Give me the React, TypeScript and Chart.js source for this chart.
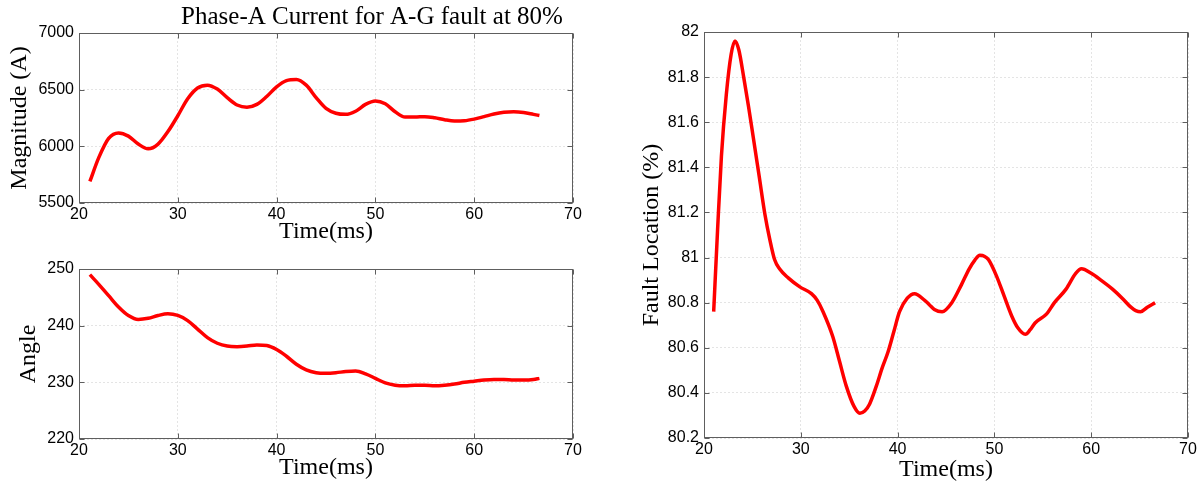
import React, { useEffect, useRef } from "react";
import { Chart, registerables } from "chart.js";

Chart.register(...registerables);

// ---------- data ----------
const chartTitle = "Phase-A Current for A-G fault at 80%";
const timeLabel = "Time(ms)";

const magTime = [21.1, 22, 23, 24, 25, 26, 27, 28, 29, 30, 31, 32, 33, 34, 35, 36, 37, 38, 39, 40, 41, 42, 43, 44, 45, 46, 47, 48, 49, 50, 51, 52, 53, 54, 55, 56, 57, 58, 59, 60, 61, 62, 63, 64, 65, 66, 66.6];
const magValues = [5690, 5900, 6070, 6118, 6090, 6020, 5978, 6020, 6130, 6270, 6420, 6515, 6540, 6505, 6430, 6365, 6345, 6370, 6440, 6525, 6580, 6590, 6540, 6430, 6335, 6292, 6282, 6310, 6370, 6400, 6375, 6305, 6258, 6258, 6262, 6252, 6235, 6224, 6226, 6240, 6262, 6285, 6300, 6305, 6298, 6282, 6272];

const angTime = [21.1, 22, 23, 24, 25, 26, 27, 28, 29, 30, 31, 32, 33, 34, 35, 36, 37, 38, 39, 40, 41, 42, 43, 44, 45, 46, 47, 48, 49, 50, 51, 52, 53, 54, 55, 56, 57, 58, 59, 60, 61, 62, 63, 64, 65, 66, 66.6];
const angValues = [249, 247.3, 245.3, 243.3, 241.8, 241.1, 241.3, 241.8, 242.1, 241.8, 240.9, 239.4, 237.9, 236.9, 236.4, 236.3, 236.4, 236.6, 236.5, 235.8, 234.6, 233.2, 232.2, 231.7, 231.6, 231.7, 231.9, 232.0, 231.5, 230.7, 229.9, 229.5, 229.4, 229.5, 229.5, 229.4, 229.5, 229.7, 230.0, 230.2, 230.4, 230.5, 230.5, 230.4, 230.4, 230.5, 230.7];

const locTime = [21.0, 21.4, 21.8, 22.3, 22.8, 23.2, 23.6, 24.1, 24.6, 25.1, 25.7, 26.3, 26.8, 27.3, 27.8, 28.7, 29.9, 31.1, 31.7, 32.3, 33.3, 34.0, 34.7, 35.5, 36.1, 36.6, 37.1, 37.8, 38.4, 39.0, 39.6, 40.2, 41.0, 41.75, 42.8, 43.3, 43.8, 44.6, 45.6, 46.6, 47.4, 48.0, 48.5, 49.0, 49.4, 50.2, 51.0, 51.8, 52.4, 53.2, 53.7, 54.2, 55.4, 56.2, 57.4, 58.4, 59.0, 60.0, 61.0, 62.2, 63.2, 64.1, 64.6, 65.1, 65.8, 66.6];
const locValues = [80.76, 81.12, 81.45, 81.72, 81.9, 81.96, 81.92, 81.8, 81.67, 81.53, 81.36, 81.19, 81.08, 80.99, 80.95, 80.91, 80.87, 80.84, 80.81, 80.76, 80.65, 80.54, 80.43, 80.34, 80.31, 80.32, 80.35, 80.43, 80.51, 80.58, 80.67, 80.76, 80.82, 80.84, 80.81, 80.79, 80.77, 80.76, 80.8, 80.88, 80.95, 80.99, 81.01, 81.005, 80.99, 80.92, 80.83, 80.74, 80.69, 80.66, 80.68, 80.71, 80.75, 80.8, 80.86, 80.93, 80.95, 80.93, 80.9, 80.86, 80.82, 80.78, 80.765, 80.76, 80.78, 80.8];

const xMin = 20;
const xMax = 70;
const xStep = 10;

// ---------- helpers ----------
const SERIF = "'Liberation Serif', 'Times New Roman', serif";
const SANS = "'Liberation Sans', Arial, sans-serif";

function makeAxesPlugin(title?: string, titleDx = 0) {
  return {
    id: "matlabAxes",
    afterDatasetsDraw(chart: any) {
      const { ctx, chartArea: a, scales } = chart;
      ctx.save();
      const L = Math.round(a.left) + 0.5;
      const R = Math.round(a.right) - 0.5;
      const T = Math.round(a.top) + 0.5;
      const B = Math.round(a.bottom) - 0.5;
      ctx.strokeStyle = "#5e5e5e";
      ctx.lineWidth = 1;
      ctx.strokeRect(L, T, R - L, B - T);
      const len = 5;
      ctx.beginPath();
      scales.x.ticks.forEach((t: any) => {
        const px = Math.round(scales.x.getPixelForValue(t.value)) + 0.5;
        ctx.moveTo(px, B);
        ctx.lineTo(px, B - len);
        ctx.moveTo(px, T);
        ctx.lineTo(px, T + len);
      });
      scales.y.ticks.forEach((t: any) => {
        const py = Math.round(scales.y.getPixelForValue(t.value)) + 0.5;
        ctx.moveTo(L, py);
        ctx.lineTo(L + len, py);
        ctx.moveTo(R, py);
        ctx.lineTo(R - len, py);
      });
      ctx.stroke();
      if (title) {
        ctx.fillStyle = "#000";
        ctx.font = `25px ${SERIF}`;
        ctx.textAlign = "center";
        ctx.textBaseline = "middle";
        ctx.fillText(title, (a.left + a.right) / 2 + titleDx, 17);
      }
      ctx.restore();
    },
  };
}

type PanelProps = {
  left: number;
  top: number;
  width: number;
  height: number;
  padLeft: number;
  padTop: number;
  padRight: number;
  yAxisWidth: number;
  xAxisHeight: number;
  xs: number[];
  ys: number[];
  yMin: number;
  yMax: number;
  yStep: number;
  yTitle: string;
  title?: string;
  titleDx?: number;
  tension: number;
};

function Panel(p: PanelProps) {
  const ref = useRef<HTMLCanvasElement | null>(null);
  useEffect(() => {
    if (!ref.current) return;
    const points = p.xs.map((x, i) => ({ x, y: p.ys[i] }));
    const fmt = (v: any) => String(Math.round(Number(v) * 10) / 10);
    const chart = new Chart(ref.current, {
      type: "line",
      data: {
        datasets: [
          {
            data: points,
            borderColor: "#ff0000",
            borderWidth: 3.5,
            pointRadius: 0,
            fill: false,
            tension: p.tension,
            cubicInterpolationMode: "monotone",
          } as any,
        ],
      },
      options: {
        responsive: false,
        animation: false,
        devicePixelRatio: 1,
        layout: { padding: { left: p.padLeft, top: p.padTop, right: p.padRight, bottom: 0 } },
        plugins: { legend: { display: false }, tooltip: { enabled: false }, title: { display: false } },
        scales: {
          x: {
            type: "linear",
            min: xMin,
            max: xMax,
            ticks: { stepSize: xStep, color: "#000", font: { family: SANS, size: 16, lineHeight: 1.0 }, padding: 4, callback: fmt, maxRotation: 0 },
            grid: { color: "#e4e4e4", lineWidth: 1, drawTicks: false },
            border: { display: false, dash: [2, 2] },
            title: { display: true, text: timeLabel, color: "#000", font: { family: SERIF, size: 24, lineHeight: 1.2 }, padding: 0 },
            afterFit: (s: any) => {
              s.height = p.xAxisHeight;
            },
          },
          y: {
            type: "linear",
            min: p.yMin,
            max: p.yMax,
            ticks: { stepSize: p.yStep, color: "#000", font: { family: SANS, size: 16 }, padding: 5, callback: fmt },
            grid: { color: "#e4e4e4", lineWidth: 1, drawTicks: false },
            border: { display: false, dash: [2, 2] },
            title: { display: true, text: p.yTitle, color: "#000", font: { family: SERIF, size: 24, lineHeight: 1.2 }, padding: 0 },
            afterFit: (s: any) => {
              s.width = p.yAxisWidth;
            },
          },
        },
      } as any,
      plugins: [makeAxesPlugin(p.title, p.titleDx || 0)],
    });
    return () => chart.destroy();
  }, []);
  return (
    <canvas
      ref={ref}
      width={p.width}
      height={p.height}
      style={{ position: "absolute", left: p.left, top: p.top, width: p.width, height: p.height }}
    />
  );
}

export default function App() {
  return (
    <div style={{ position: "absolute", left: 0, top: 0, width: 1204, height: 484, background: "#fff", overflow: "hidden" }}>
      <Panel
        left={0}
        top={0}
        width={600}
        height={246}
        padLeft={5}
        padTop={33}
        padRight={27}
        yAxisWidth={74}
        xAxisHeight={43}
        xs={magTime}
        ys={magValues}
        yMin={5500}
        yMax={7000}
        yStep={500}
        yTitle="Magnitude (A)"
        title={chartTitle}
        titleDx={46}
        tension={0.4}
      />
      <Panel
        left={0}
        top={236}
        width={600}
        height={246}
        padLeft={14}
        padTop={33}
        padRight={27}
        yAxisWidth={65}
        xAxisHeight={43}
        xs={angTime}
        ys={angValues}
        yMin={220}
        yMax={250}
        yStep={10}
        yTitle="Angle"
        tension={0.4}
      />
      <Panel
        left={600}
        top={0}
        width={604}
        height={484}
        padLeft={37}
        padTop={32}
        padRight={16}
        yAxisWidth={67}
        xAxisHeight={46}
        xs={locTime}
        ys={locValues}
        yMin={80.2}
        yMax={82}
        yStep={0.2}
        yTitle="Fault Location (%)"
        tension={0.3}
      />
    </div>
  );
}
